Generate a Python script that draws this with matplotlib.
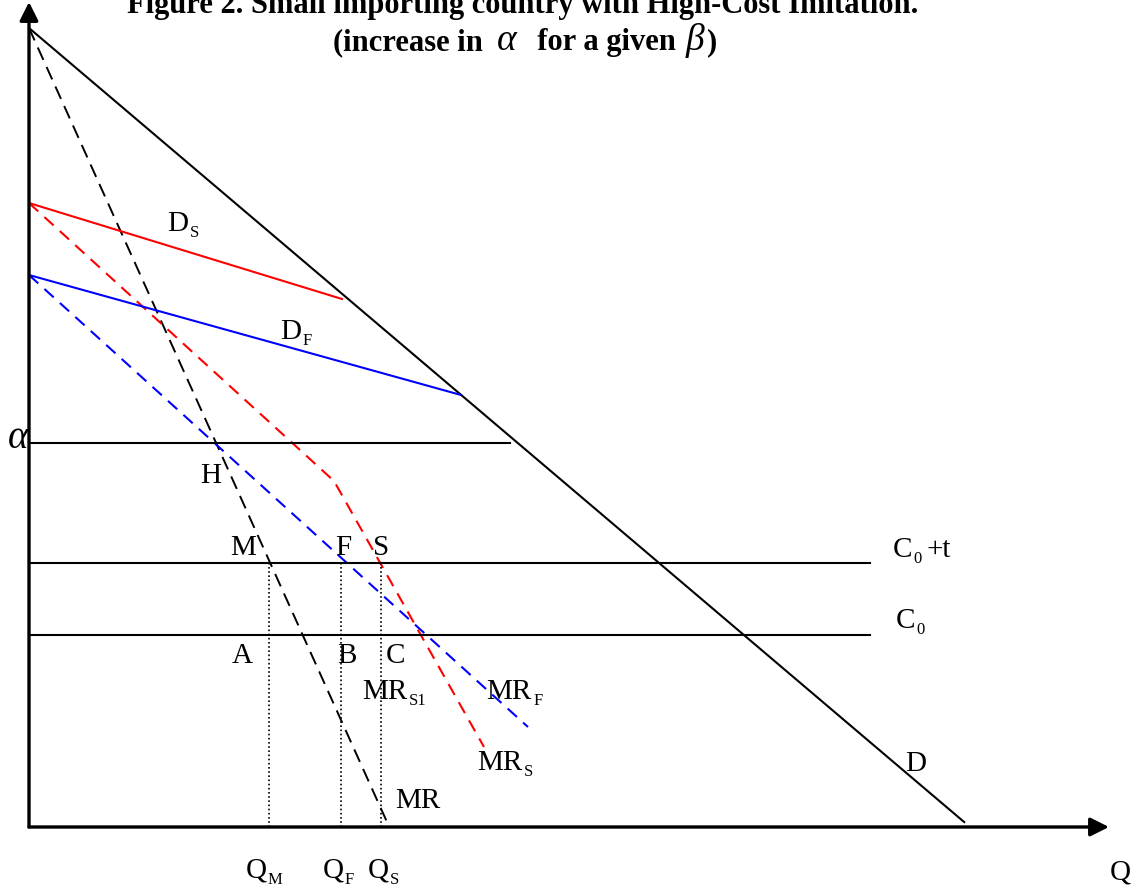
import matplotlib
matplotlib.use("Agg")
import matplotlib.pyplot as plt

SERIF = "Liberation Serif"

# --- Curve geometry (quantity Q, price P); origin at the axes corner ---
# Market demand D
demand_q = [0, 941]
demand_p = [799, 0]
demand_end_q = 936

# Monopoly marginal revenue MR
mr_q = [0, 358]
mr_p = [799, 5]

# Demand / marginal revenue under the imitation case S (red)
ds_q = [0, 313]
ds_p = [624, 528]
mrs_q = [0, 305, 455]
mrs_p = [624, 346, 80]

# Demand / marginal revenue under the imitation case F (blue)
df_q = [0, 432]
df_p = [552, 432]
mrf_q = [0, 499]
mrf_p = [552, 100]

# Horizontal price levels
alpha_level = 384
alpha_len = 481
c0_t_level = 264
c0_level = 192
cost_len = 841

# Equilibrium quantities
q_m, q_f, q_s = 240, 312, 352
q_s_top = 264

fig = plt.figure(figsize=(11.48, 8.93), dpi=100)
ax = fig.add_axes([0, 0, 1, 1])
ax.set_xlim(-29, 1148 - 29)
ax.set_ylim(827 - 893, 827)
ax.axis("off")
renderer = fig.canvas.get_renderer()

dash_k = (0, (7, 4))
dash_c = (0, (6, 4))

# Axes with arrowheads
ax.annotate("", xy=(0, 825), xytext=(0, 0),
            arrowprops=dict(arrowstyle="-|>", lw=2.4, color="black",
                            mutation_scale=28, shrinkA=0, shrinkB=0))
ax.annotate("", xy=(1080, 0), xytext=(0, 0),
            arrowprops=dict(arrowstyle="-|>", lw=2.4, color="black",
                            mutation_scale=28, shrinkA=0, shrinkB=0))

# Demand
slope_d = (demand_p[1] - demand_p[0]) / (demand_q[1] - demand_q[0])
ax.plot([demand_q[0], demand_end_q],
        [demand_p[0], demand_p[0] + slope_d * demand_end_q],
        color="black", lw=1.5, solid_capstyle="butt")

# MR
ax.plot(mr_q, mr_p, color="black", lw=1.4, linestyle=dash_k)

# Red curves
ax.plot(ds_q, ds_p, color="#ff0000", lw=1.5)
ax.plot(mrs_q, mrs_p, color="#ff0000", lw=1.5, linestyle=dash_c)

# Blue curves
ax.plot(df_q, df_p, color="#0000ff", lw=1.5)
ax.plot(mrf_q, mrf_p, color="#0000ff", lw=1.5, linestyle=dash_c)

# Price levels
ax.plot([0, alpha_len], [alpha_level, alpha_level], color="black", lw=1.5)
ax.plot([0, cost_len], [c0_t_level, c0_t_level], color="black", lw=1.5)
ax.plot([0, cost_len], [c0_level, c0_level], color="black", lw=1.5)

# Dotted drop lines
for q in (q_m, q_f, q_s):
    ax.plot([q, q], [0, q_s_top], color="black", lw=1.2,
            linestyle=(0, (1, 1.5)))


def label(px, py, main, sub=None, size=21, subsize=12, dx_sub=2, dy_sub=-6,
          style="normal"):
    """Place text at a left/baseline anchor given in price-quantity units."""
    t = ax.text(px, py, main, fontsize=size, family=SERIF, style=style,
                ha="left", va="baseline", color="black")
    if sub:
        bb = t.get_window_extent(renderer=renderer)
        inv = ax.transData.inverted()
        x_end = inv.transform((bb.x1, bb.y0))[0]
        ax.text(x_end + dx_sub, py + dy_sub, sub, fontsize=subsize,
                family=SERIF, ha="left", va="baseline", color="black")


def at(px, py):
    return px - 29, 827 - py


label(*at(167, 231), "D", "S")
label(*at(280, 339), "D", "F")
label(*at(200, 483), "H")
label(*at(230, 555), "M")
label(*at(335, 555), "F")
label(*at(373, 555), "S")
label(*at(232, 663), "A")
label(*at(337, 663), "B")
label(*at(386, 663), "C")
label(*at(362, 699), "MR", "S1")
label(*at(486, 699), "MR", "F")
label(*at(477, 770), "MR", "S")
label(*at(395, 808), "MR")
label(*at(905, 771), "D")
label(*at(893, 557), "C", "0", dx_sub=1)
ax.text(*at(926, 557), "+t", fontsize=21, family=SERIF, ha="left",
        va="baseline")
label(*at(896, 628), "C", "0", dx_sub=1)
label(*at(246, 878), "Q", "M", dx_sub=1)
label(*at(323, 878), "Q", "F", dx_sub=1)
label(*at(368, 878), "Q", "S", dx_sub=1)
ax.text(*at(1110, 880), "Q", fontsize=21, family=SERIF, ha="left",
        va="baseline")
ax.text(*at(8, 448), "\u03b1", fontsize=28, family=SERIF, style="italic",
        ha="left", va="baseline")

# Title, first line
fig.text(523 / 1148, 1 - 13 / 893,
         "Figure 2. Small importing country with High-Cost Imitation.",
         fontsize=22, family=SERIF, weight="bold", ha="center", va="baseline")

# Title, second line built from pieces so the Greek letters can be italic
title_parts = [("(increase in ", False, 0.0), ("\u03b1", True, 6.0),
               ("  for a given ", False, 0.0), ("\u03b2", True, 2.0),
               (")", False, 0.0)]
y2 = 1 - 50 / 893
pieces = []
cur = 0.0
for s, greek, pad in title_parts:
    cur += pad
    t = fig.text(cur / 1148, y2, s, fontsize=27 if greek else 22,
                 family=SERIF, style="italic" if greek else "normal",
                 weight="normal" if greek else "bold",
                 ha="left", va="baseline")
    bb = t.get_window_extent(renderer=renderer)
    pieces.append((t, cur))
    cur += bb.width + pad
shift = 525 - cur / 2
for t, x in pieces:
    t.set_x((x + shift) / 1148)

fig.savefig("out.png", dpi=100)
